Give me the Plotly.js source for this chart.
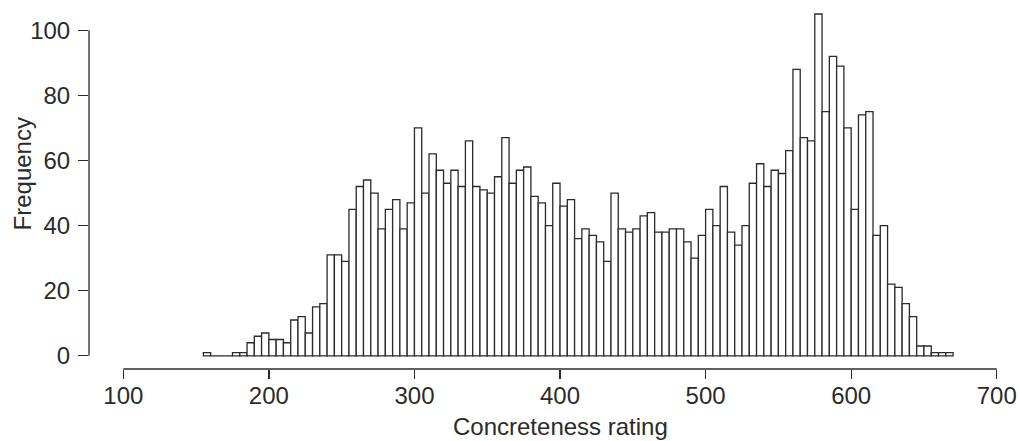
<!DOCTYPE html>
<html>
<head>
<meta charset="utf-8">
<script src="https://cdn.plot.ly/plotly-3.0.1.min.js"></script>
<style>html,body{margin:0;padding:0;background:#fff;}#chart{width:1020px;height:441px;}</style>
</head>
<body>
<div id="chart"></div>
<script>
// Histogram of concreteness ratings: bins of width 5 starting at 155
const binStart = 155;
const binWidth = 5;
const frequencies = [
  1, 0, 0, 0, 1, 1, 4, 6, 7, 5,
  5, 4, 11, 12, 7, 15, 16, 31, 31, 29,
  45, 52, 54, 50, 39, 45, 48, 39, 47, 70,
  50, 62, 57, 53, 57, 52, 66, 52, 51, 50,
  55, 67, 53, 57, 58, 49, 47, 40, 53, 46,
  48, 36, 39, 37, 35, 29, 50, 39, 38, 39,
  43, 44, 38, 38, 39, 39, 35, 30, 37, 45,
  40, 52, 38, 34, 40, 53, 59, 52, 57, 56,
  63, 88, 67, 66, 105, 75, 92, 89, 70, 45,
  74, 75, 37, 40, 22, 21, 16, 12, 3, 3,
  1, 1, 1
];
const xTicks = [100, 200, 300, 400, 500, 600, 700];
const yTicks = [0, 20, 40, 60, 80, 100];
const xTitle = "Concreteness rating";
const yTitle = "Frequency";

const centers = frequencies.map((_, i) => binStart + binWidth * i + binWidth / 2);

const fontFam = "Liberation Sans, Arial, Helvetica, sans-serif";
const ink = "#2b2b2b";

const trace = {
  type: "bar",
  x: centers,
  y: frequencies,
  width: binWidth,
  marker: {color: "#ffffff", line: {color: ink, width: 1.3}},
  hoverinfo: "x+y"
};

const layout = {
  width: 1020,
  height: 441,
  margin: {l: 89, r: 10, t: 10, b: 72},
  paper_bgcolor: "#ffffff",
  plot_bgcolor: "#ffffff",
  showlegend: false,
  bargap: 0,
  xaxis: {
    range: [76.44, 709.1],
    tickmode: "array",
    tickvals: xTicks,
    ticktext: xTicks.map(String),
    ticks: "outside",
    ticklen: 9,
    tickwidth: 1.3,
    tickcolor: ink,
    ticklabelstandoff: -4,
    showgrid: false,
    zeroline: false,
    showline: false,
    tickfont: {family: fontFam, size: 24, color: ink}
  },
  yaxis: {
    range: [-4.06, 106.23],
    tickmode: "array",
    tickvals: yTicks,
    ticktext: yTicks.map(String),
    ticks: "outside",
    ticklen: 10,
    tickwidth: 1.3,
    tickcolor: ink,
    ticklabelstandoff: 3,
    showgrid: false,
    zeroline: false,
    showline: false,
    tickfont: {family: fontFam, size: 24, color: ink}
  },
  shapes: [
    {type: "line", xref: "x", yref: "paper", x0: xTicks[0], x1: xTicks[xTicks.length - 1], y0: 0, y1: 0,
     line: {color: ink, width: 1.3}},
    {type: "line", xref: "paper", yref: "y", x0: 0, x1: 0, y0: yTicks[0], y1: yTicks[yTicks.length - 1],
     line: {color: ink, width: 1.3}}
  ],
  annotations: [
    {text: xTitle, xref: "x", x: 400, yref: "paper", y: -0.1596, xanchor: "center", yanchor: "middle",
     showarrow: false, font: {family: fontFam, size: 24, color: ink}},
    {text: yTitle, xref: "paper", x: -0.0727, yref: "paper", y: 0.542, xanchor: "center", yanchor: "middle",
     textangle: -90, showarrow: false, font: {family: fontFam, size: 24, color: ink}}
  ]
};

Plotly.newPlot("chart", [trace], layout, {displayModeBar: false, staticPlot: true});
</script>
</body>
</html>
